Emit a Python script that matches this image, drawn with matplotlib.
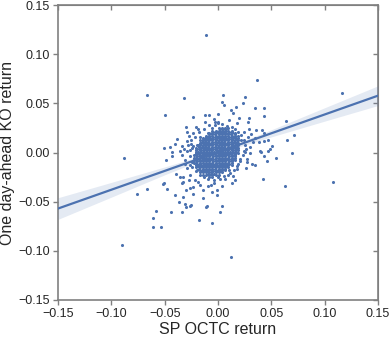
import matplotlib
matplotlib.use("Agg")
import matplotlib.pyplot as plt

BLUE = "#4C72B0"
SPINE = "#808080"

# scattered points outside the dense core
sparse_x = [-0.011, -0.067, -0.032, -0.050, -0.023, -0.088, 0.037, 0.116, 0.005, 0.025,
            0.004, 0.006, 0.023, 0.017, 0.035, 0.043, 0.043, 0.064, 0.029, 0.071,
            0.065, 0.069, 0.051, 0.054, 0.041, 0.036, 0.043, 0.035, 0.047, 0.038,
            0.049, 0.040, 0.043, 0.046, 0.032, 0.026, 0.042, 0.063, 0.108, 0.013,
            0.014, 0.004, -0.001, -0.014, -0.026, -0.010, 0.004, 0.002, -0.018, -0.006,
            0.012, -0.090, -0.076, -0.067, -0.058, -0.061, -0.061, -0.053, -0.052, -0.044,
            -0.048, -0.040, -0.037, -0.034, -0.031, -0.039, -0.033, -0.030, -0.026, -0.034,
            -0.030, -0.025, -0.023, -0.033, -0.027, -0.012, -0.008, -0.004, -0.012, -0.030,
            -0.021, -0.029, -0.023, -0.019, -0.038, -0.029, -0.034, -0.040, -0.051, -0.045,
            -0.043, -0.036, -0.023, -0.029, -0.049, -0.051, -0.011,
            0.012, 0.014, 0.000, 0.020, 0.028, 0.000, 0.018, 0.010, 0.029, 0.024,
            0.028, 0.022, 0.030, 0.033, 0.039, 0.047, 0.043, 0.025, 0.030,
            0.024, 0.035, 0.027, 0.021, 0.019, 0.009, 0.007, 0.010, 0.018, 0.000,
            -0.043, -0.034, -0.031, -0.029, -0.036, -0.033, -0.026, -0.022, -0.023, -0.017,
            -0.014, -0.009, -0.006, -0.004, -0.001, -0.020, -0.026,
            -0.017, -0.014, -0.009, -0.006, -0.003, 0.000, -0.019, -0.012, -0.026, -0.021, -0.025,
            -0.024, -0.026, -0.024, -0.028, -0.025, -0.022, -0.018, -0.013, -0.008, -0.003,
            0.004, 0.008, 0.013, 0.016, 0.019, 0.022, 0.024, 0.025, 0.026, 0.023,
            0.021, 0.018, 0.015, 0.011, 0.006, 0.002, -0.004, -0.009, -0.013, -0.017,
            -0.021, -0.024, -0.031, -0.032, -0.027, 0.031, 0.027, 0.016, -0.007, -0.019]
sparse_y = [0.119, 0.058, 0.055, 0.038, 0.036, -0.006, 0.074, 0.061, 0.058, 0.056,
            0.051, 0.048, 0.050, 0.046, 0.045, 0.045, 0.037, 0.032, 0.035, 0.018,
            0.013, 0.000, 0.007, -0.006, 0.023, 0.023, 0.020, 0.015, 0.013, 0.011,
            0.004, 0.001, -0.004, -0.009, -0.012, -0.016, -0.027, -0.034, -0.030, -0.031,
            -0.024, -0.034, -0.038, -0.046, -0.054, -0.054, -0.054, -0.061, -0.069, -0.072,
            -0.106, -0.094, -0.042, -0.037, -0.059, -0.067, -0.076, -0.076, -0.032, -0.061,
            -0.037, -0.043, -0.050, -0.060, -0.052, -0.022, -0.025, -0.038, -0.036, -0.031,
            -0.055, -0.053, -0.042, -0.045, -0.028, 0.038, 0.038, 0.034, 0.031, 0.026,
            0.026, 0.021, 0.020, 0.024, 0.014, 0.012, 0.007, 0.009, 0.005, 0.006,
            0.001, 0.002, 0.007, 0.002, -0.008, -0.031, -0.055,
            0.043, 0.040, 0.039, 0.035, 0.031, 0.031, 0.030, 0.033, 0.024, 0.021,
            0.016, 0.013, 0.006, 0.011, 0.002, 0.002, 0.012, 0.001, 0.000,
            0.002, -0.013, -0.007, -0.007, -0.012, -0.023, -0.027, -0.018, -0.017, -0.025,
            -0.004, -0.003, -0.008, -0.016, -0.025, -0.030, -0.023, -0.028, -0.035, -0.033,
            -0.038, -0.034, -0.040, -0.031, -0.043, -0.018, -0.013,
            0.016, 0.013, 0.020, 0.025, 0.028, 0.030, 0.008, 0.006, 0.003, 0.001, 0.009,
            0.005, -0.004, -0.010, 0.008, 0.013, 0.016, 0.021, 0.024, 0.028, 0.031,
            0.029, 0.027, 0.026, 0.024, 0.021, 0.018, 0.013, 0.008, 0.004, -0.003,
            -0.009, -0.014, -0.018, -0.021, -0.024, -0.027, -0.028, -0.027, -0.025, -0.023,
            -0.019, -0.015, -0.012, 0.004, 0.017, 0.019, -0.010, -0.028, -0.033, -0.030]

# dense core, estimated row by row (two interleaved sets of rows)
core_row_y = [0.0235, 0.021, 0.0185, 0.016, 0.0135, 0.011, 0.0085, 0.006, 0.0035, 0.001,
              -0.0015, -0.004, -0.0065, -0.009, -0.0115, -0.014, -0.0165, -0.019, -0.0215]
core_row_x = [
    [0.0015, 0.0045, 0.0075],
    [-0.005, -0.002, 0.001, 0.004, 0.007, 0.010, 0.013],
    [-0.0085, -0.0055, -0.0025, 0.0005, 0.0035, 0.0065, 0.0095, 0.0125, 0.0155],
    [-0.011, -0.008, -0.005, -0.002, 0.001, 0.004, 0.007, 0.010, 0.013, 0.016],
    [-0.0135, -0.0105, -0.0075, -0.0045, -0.0015, 0.0015, 0.0045, 0.0075, 0.0105, 0.0135, 0.0165],
    [-0.015, -0.012, -0.009, -0.006, -0.003, 0.000, 0.003, 0.006, 0.009, 0.012, 0.015, 0.018],
    [-0.0165, -0.0135, -0.0105, -0.0075, -0.0045, -0.0015, 0.0015, 0.0045, 0.0075, 0.0105, 0.0135, 0.0165],
    [-0.018, -0.015, -0.012, -0.009, -0.006, -0.003, 0.000, 0.003, 0.006, 0.009, 0.012, 0.015, 0.018],
    [-0.0195, -0.0165, -0.0135, -0.0105, -0.0075, -0.0045, -0.0015, 0.0015, 0.0045, 0.0075, 0.0105, 0.0135, 0.0165],
    [-0.019, -0.016, -0.013, -0.010, -0.007, -0.004, -0.001, 0.002, 0.005, 0.008, 0.011, 0.014, 0.017],
    [-0.0205, -0.0175, -0.0145, -0.0115, -0.0085, -0.0055, -0.0025, 0.0005, 0.0035, 0.0065, 0.0095, 0.0125, 0.0155],
    [-0.020, -0.017, -0.014, -0.011, -0.008, -0.005, -0.002, 0.001, 0.004, 0.007, 0.010, 0.013, 0.016],
    [-0.0205, -0.0175, -0.0145, -0.0115, -0.0085, -0.0055, -0.0025, 0.0005, 0.0035, 0.0065, 0.0095, 0.0125, 0.015],
    [-0.020, -0.017, -0.014, -0.011, -0.008, -0.005, -0.002, 0.001, 0.004, 0.007, 0.010, 0.013],
    [-0.0195, -0.0165, -0.0135, -0.0105, -0.0075, -0.0045, -0.0015, 0.0015, 0.0045, 0.0075, 0.0105],
    [-0.019, -0.016, -0.013, -0.010, -0.007, -0.004, -0.001, 0.002, 0.005, 0.008],
    [-0.0175, -0.0145, -0.0115, -0.0085, -0.0055, -0.0025, 0.0005, 0.0035, 0.0065],
    [-0.015, -0.012, -0.009, -0.006, -0.003, 0.000, 0.003],
    [-0.0095, -0.0065, -0.0035],
]
core_mid_y = [0.02475, 0.02225, 0.01975, 0.01725, 0.01475, 0.01225, 0.00975, 0.00725, 0.00475,
              0.00225, -0.00025, -0.00275, -0.00525, -0.00775, -0.01025, -0.01275, -0.01525,
              -0.01775, -0.02025, -0.02275, -0.02525]
core_mid_x = [
    [0.0007, 0.0037, 0.0067, 0.0097],
    [-0.0053, -0.0023, 0.0007, 0.0037, 0.0067, 0.0097, 0.0127],
    [-0.0083, -0.0053, -0.0023, 0.0007, 0.0037, 0.0067, 0.0097, 0.0127, 0.0157],
    [-0.0113, -0.0083, -0.0053, -0.0023, 0.0007, 0.0037, 0.0067, 0.0097, 0.0127, 0.0157, 0.0187],
    [-0.0143, -0.0113, -0.0083, -0.0053, -0.0023, 0.0007, 0.0037, 0.0067, 0.0097, 0.0127, 0.0157, 0.0187],
    [-0.0166, -0.0143, -0.0113, -0.0083, -0.0053, -0.0023, 0.0007, 0.0037, 0.0067, 0.0097, 0.0127, 0.0157, 0.0187],
    [-0.0173, -0.0143, -0.0113, -0.0083, -0.0053, -0.0023, 0.0007, 0.0037, 0.0067, 0.0097, 0.0127, 0.0157, 0.0187],
    [-0.0196, -0.0173, -0.0143, -0.0113, -0.0083, -0.0053, -0.0023, 0.0007, 0.0037, 0.0067, 0.0097, 0.0127, 0.0157, 0.0187],
    [-0.0203, -0.0173, -0.0143, -0.0113, -0.0083, -0.0053, -0.0023, 0.0007, 0.0037, 0.0067, 0.0097, 0.0127, 0.0157, 0.0187],
    [-0.0203, -0.0173, -0.0143, -0.0113, -0.0083, -0.0053, -0.0023, 0.0007, 0.0037, 0.0067, 0.0097, 0.0127, 0.0157, 0.0187],
    [-0.0203, -0.0173, -0.0143, -0.0113, -0.0083, -0.0053, -0.0023, 0.0007, 0.0037, 0.0067, 0.0097, 0.0127, 0.0157, 0.0187],
    [-0.0223, -0.0203, -0.0173, -0.0143, -0.0113, -0.0083, -0.0053, -0.0023, 0.0007, 0.0037, 0.0067, 0.0097, 0.0127, 0.0157],
    [-0.0226, -0.0203, -0.0173, -0.0143, -0.0113, -0.0083, -0.0053, -0.0023, 0.0007, 0.0037, 0.0067, 0.0097, 0.0127, 0.0157],
    [-0.0228, -0.0203, -0.0173, -0.0143, -0.0113, -0.0083, -0.0053, -0.0023, 0.0007, 0.0037, 0.0067, 0.0097, 0.0127, 0.0157],
    [-0.0225, -0.0203, -0.0173, -0.0143, -0.0113, -0.0083, -0.0053, -0.0023, 0.0007, 0.0037, 0.0067, 0.0097, 0.0127],
    [-0.0203, -0.0173, -0.0143, -0.0113, -0.0083, -0.0053, -0.0023, 0.0007, 0.0037, 0.0067, 0.0097, 0.0127],
    [-0.0203, -0.0173, -0.0143, -0.0113, -0.0083, -0.0053, -0.0023, 0.0007, 0.0037, 0.0067, 0.0097],
    [-0.0173, -0.0143, -0.0113, -0.0083, -0.0053, -0.0023, 0.0007, 0.0037, 0.0067],
    [-0.0173, -0.0143, -0.0113, -0.0083, -0.0053, -0.0023, 0.0007, 0.0037],
    [-0.0143, -0.0113, -0.0083, -0.0053, -0.0023, 0.0007],
    [-0.0083, -0.0053],
]

# fitted regression line and its confidence band
line_x = [-0.15, 0.15]
line_y = [-0.0570, 0.0578]
band_x = [-0.15, -0.10, -0.05, 0.0, 0.05, 0.10, 0.15]
band_lo = [-0.0680, -0.0454, -0.0227, -0.0009, 0.0159, 0.0319, 0.0478]
band_hi = [-0.0460, -0.0304, -0.0147, 0.0017, 0.0231, 0.0455, 0.0678]

ticks = [-0.15, -0.10, -0.05, 0.00, 0.05, 0.10, 0.15]

plt.rcParams["font.family"] = ["Liberation Sans", "DejaVu Sans"]

xs = list(sparse_x)
ys = list(sparse_y)
for y, row in list(zip(core_row_y, core_row_x)) + list(zip(core_mid_y, core_mid_x)):
    xs += row
    ys += [y] * len(row)

fig = plt.figure(figsize=(3.9, 3.39), dpi=100)
ax = fig.add_axes([58 / 390, 39 / 339, 320 / 390, 295 / 339])

ax.scatter(xs, ys, s=5, color=BLUE, linewidths=0, zorder=2)
ax.fill_between(band_x, band_lo, band_hi, color=BLUE, alpha=0.15, linewidth=0, zorder=3)
ax.plot(line_x, line_y, color=BLUE, lw=1.6, zorder=4)

ax.set_xlim(-0.15, 0.15)
ax.set_ylim(-0.15, 0.15)
ax.set_xticks(ticks)
ax.set_yticks(ticks)
ax.set_xticklabels(["%.2f" % t if t >= 0 else "\u2212%.2f" % -t for t in ticks])
ax.set_yticklabels(["%.2f" % t if t >= 0 else "\u2212%.2f" % -t for t in ticks])

for sp in ax.spines.values():
    sp.set_color(SPINE)
    sp.set_linewidth(1.2)
ax.tick_params(direction="out", length=3.5, width=1.0, color=SPINE,
               labelsize=9, labelcolor="0.15", pad=2.5)

# inward ticks on top and right
top = ax.secondary_xaxis("top")
top.set_xticks(ticks)
top.tick_params(direction="in", length=3.5, width=1.0, color=SPINE, labeltop=False)
top.spines["top"].set_color(SPINE)
right = ax.secondary_yaxis("right")
right.set_yticks(ticks)
right.tick_params(direction="in", length=3.5, width=1.0, color=SPINE, labelright=False)
right.spines["right"].set_color(SPINE)

ax.set_xlabel("SP OCTC return", fontsize=11.5, color="0.15")
ax.set_ylabel("One day-ahead KO return", fontsize=11.5, color="0.15")
ax.xaxis.set_label_coords(0.5, -0.073)
ax.yaxis.set_label_coords(-0.135, 0.5)

fig.savefig("out.png", dpi=100)
